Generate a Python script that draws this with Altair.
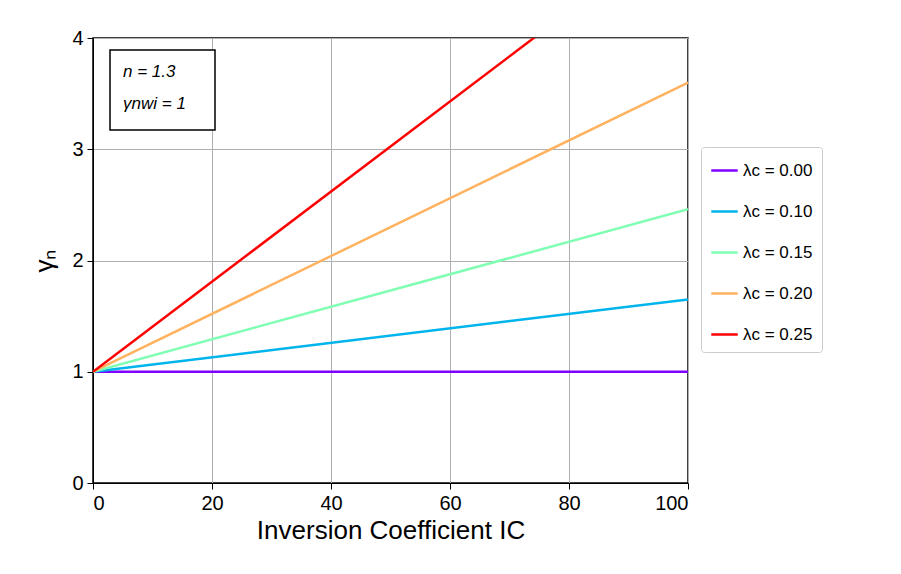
import altair as alt
import pandas as pd

ic = [0, 100]
labels = ["λc = 0.00", "λc = 0.10", "λc = 0.15", "λc = 0.20", "λc = 0.25"]
ends = [1.0, 1.65, 2.46, 3.6, 5.05]
colors = ["#8000ff", "#00b4ec", "#80ffb4", "#ffb360", "#ff0000"]

rows = []
for lab, end in zip(labels, ends):
    rows.append({"IC": ic[0], "g": 1.0, "s": lab})
    rows.append({"IC": ic[1], "g": end, "s": lab})
df = pd.DataFrame(rows)

font = "Liberation Sans"

lines = alt.Chart(df).mark_line(strokeWidth=2.5, clip=True).encode(
    x=alt.X("IC:Q", scale=alt.Scale(domain=[0, 100], nice=False),
            title="Inversion Coefficient IC",
            axis=alt.Axis(values=[0, 20, 40, 60, 80, 100], grid=True)),
    y=alt.Y("g:Q", scale=alt.Scale(domain=[0, 4], nice=False), title="γₙ",
            axis=alt.Axis(values=[0, 1, 2, 3, 4], grid=True)),
    color=alt.Color("s:N", scale=alt.Scale(domain=labels, range=colors),
                    legend=alt.Legend(title=None, orient="none", legendX=608, legendY=109,
                                      strokeColor="#cccccc", padding=9,
                                      cornerRadius=3, symbolType="stroke",
                                      symbolSize=700, symbolStrokeWidth=2.5,
                                      labelFontSize=17, rowPadding=18,
                                      labelFont=font, fillColor="white")),
)

box = alt.Chart(pd.DataFrame({"a": [0]})).mark_rect(
    fill="white", stroke="black", strokeWidth=1.5
).encode(x=alt.value(17), x2=alt.value(122), y=alt.value(12), y2=alt.value(92))

txt = alt.Chart(pd.DataFrame({"t": ["n =  1.3", "γnwi =  1"], "yy": [34, 66]})).mark_text(
    align="left", fontSize=17, font=font, fontStyle="italic"
).encode(x=alt.value(30), y=alt.Y("yy:Q", scale=None, axis=None), text="t:N")

chart = alt.layer(lines, box, txt).properties(
    width=595, height=445,
    padding={"left": 23, "top": 20, "right": 5, "bottom": 5}
).configure_view(stroke="black", strokeWidth=1.5).configure_axis(
    labelFont=font, titleFont=font, labelFontSize=20, titleFontSize=26,
    titleFontWeight="normal", labelColor="black", titleColor="black",
    domainColor="black", tickColor="black", gridColor="#b0b0b0",
    tickSize=6, labelPadding=4
).configure_axisY(titlePadding=14)

chart.save("out.html", embed_options={"renderer": "svg", "actions": False})
